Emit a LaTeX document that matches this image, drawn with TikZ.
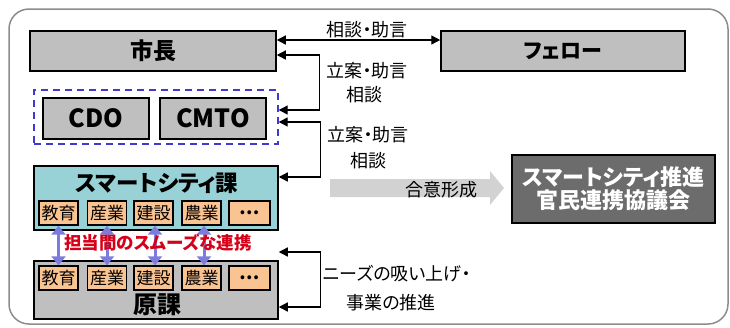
\documentclass[tikz,border=0pt]{standalone}
\usepackage{fontspec}
\setmainfont{Noto Sans CJK JP}[CharacterWidth=AlternateProportional]
\usetikzlibrary{arrows.meta,calc}
\definecolor{boxgray}{RGB}{191,191,191}
\definecolor{tealfill}{RGB}{152,210,214}
\definecolor{peach}{RGB}{250,196,146}
\definecolor{dashblue}{RGB}{64,56,208}
\definecolor{purp}{RGB}{124,124,220}
\definecolor{redtxt}{RGB}{214,0,24}
\definecolor{framegray}{RGB}{140,140,140}
\definecolor{arrgray}{RGB}{210,210,210}
\definecolor{darkbox}{RGB}{108,108,108}
\tikzset{
  bigbox/.style={draw=black, line width=1.5pt, fill=boxgray, inner sep=0pt, font=\bfseries\fontsize{23}{24}\selectfont},
  subbox/.style={draw=black, line width=1.4pt, fill=peach, minimum width=39pt, minimum height=24pt, inner sep=0pt, font=\fontsize{17}{18}\selectfont},
  conn/.style={line width=1.3pt, {Triangle[length=9pt,width=9pt]}-{Triangle[length=9pt,width=9pt]}},
  purparrow/.style={draw=purp, line width=3pt, {Triangle[length=9pt,width=14pt]}-{Triangle[length=9pt,width=14pt]}},
  lbl/.style={inner sep=0pt, font=\fontsize{18}{20}\selectfont},
}
\begin{document}
\begin{tikzpicture}[x=1pt,y=-1pt]
\useasboundingbox (0,0) rectangle (730,327);
\draw[framegray, line width=1.5pt, rounded corners=20pt] (9,9) rectangle (728,324);

% top boxes
\node[bigbox, minimum width=246pt, minimum height=40pt] (mayor) at (153,51) {市長};
\node[bigbox, minimum width=244pt, minimum height=40pt, font=\bfseries\fontsize{21}{22}\selectfont] (fellow) at (563,51) {フェロー};

% dashed group
\node[draw=dashblue, dash pattern=on 7pt off 5pt, line width=1.4pt, minimum width=244pt, minimum height=54pt, inner sep=0pt] (grp) at (156,117) {};
\node[bigbox, minimum width=106pt, minimum height=41pt, font=\bfseries\fontsize{25}{26}\selectfont] (cdo) at (96,118.5) {CDO};
\node[bigbox, minimum width=106pt, minimum height=41pt, font=\bfseries\fontsize{25}{26}\selectfont] (cmto) at (213,118.5) {CMTO};

% smart city section
\node[bigbox, fill=tealfill, minimum width=244pt, minimum height=64pt] (sc) at (156,198) {};
\node[inner sep=0pt, font=\bfseries\fontsize{22.5}{24}\selectfont] (sctitle) at (157,183) {スマートシティ課};
\node[subbox] (s1) at (58.5,213) {教育};
\node[subbox] (s2) at (107,213) {産業};
\node[subbox] (s3) at (153.5,213) {建設};
\node[subbox] (s4) at (201.5,213) {農業};
\node[subbox, minimum width=41pt, font=\bfseries\fontsize{18}{18}\selectfont] (s5) at (249.5,213) {…};

% genka section
\node[bigbox, minimum width=244pt, minimum height=58pt] (genka) at (156,290) {};
\node[inner sep=0pt, font=\bfseries\fontsize{24}{24}\selectfont] (gtitle) at (157,305) {原課};
\node[subbox] (g1) at (58.5,278) {教育};
\node[subbox] (g2) at (107,278) {産業};
\node[subbox] (g3) at (153.5,278) {建設};
\node[subbox] (g4) at (201.5,278) {農業};
\node[subbox, minimum width=41pt, font=\bfseries\fontsize{18}{18}\selectfont] (g5) at (249.5,278) {…};

% purple arrows
\draw[purparrow] (s1.south) -- (g1.north);
\draw[purparrow] (s2.south) -- (g2.north);
\draw[purparrow] ([xshift=1.5pt]s3.south) -- ([xshift=1.5pt]g3.north);
\draw[purparrow] ([xshift=2.5pt]s4.south) -- ([xshift=2.5pt]g4.north);
\node[inner sep=0pt, text=redtxt, font=\bfseries\fontsize{17.5}{19}\selectfont] (coop) at (158,243) {担当間のスムーズな連携};

% council
\node[draw=black, line width=1.5pt, fill=darkbox, minimum width=203pt, minimum height=68pt, inner sep=0pt, text=white, align=center, font=\bfseries\fontsize{22}{23}\selectfont] (council) at (613.5,189) {スマートシティ推進\\官民連携協議会};

% gray arrow
\fill[arrgray] (330,179) -- (490,179) -- (490,171) -- (504,188) -- (490,205) -- (490,197) -- (330,197) -- cycle;
\node[lbl] (goui) at (441,190) {合意形成};

% connectors
\draw[conn] ([yshift=11pt]mayor.east) -- ([yshift=11pt]fellow.west);
\draw[conn] ([yshift=-4pt]mayor.east) -| ($(grp.east)+(41pt,7pt)$) -- ([yshift=7pt]grp.east);
\draw[conn] ([yshift=-5pt]grp.east) -- ++(42pt,0pt) |- ([yshift=21pt]sc.east);
\draw[conn] ([yshift=38pt]genka.east) -- ++(42pt,0pt) |- ([yshift=-17pt]genka.east);

% labels
\node[lbl] (l1) at (367,30) {相談・助言};
\node[lbl] (l2) at (367,71) {立案・助言};
\node[lbl] (l3) at (364,95) {相談};
\node[lbl] (l4) at (368,135) {立案・助言};
\node[lbl] (l5) at (368,161) {相談};
\node[lbl] (l6) at (397,274) {ニーズの吸い上げ・};
\node[lbl] (l7) at (391,303) {事業の推進};
\end{tikzpicture}
\end{document}
